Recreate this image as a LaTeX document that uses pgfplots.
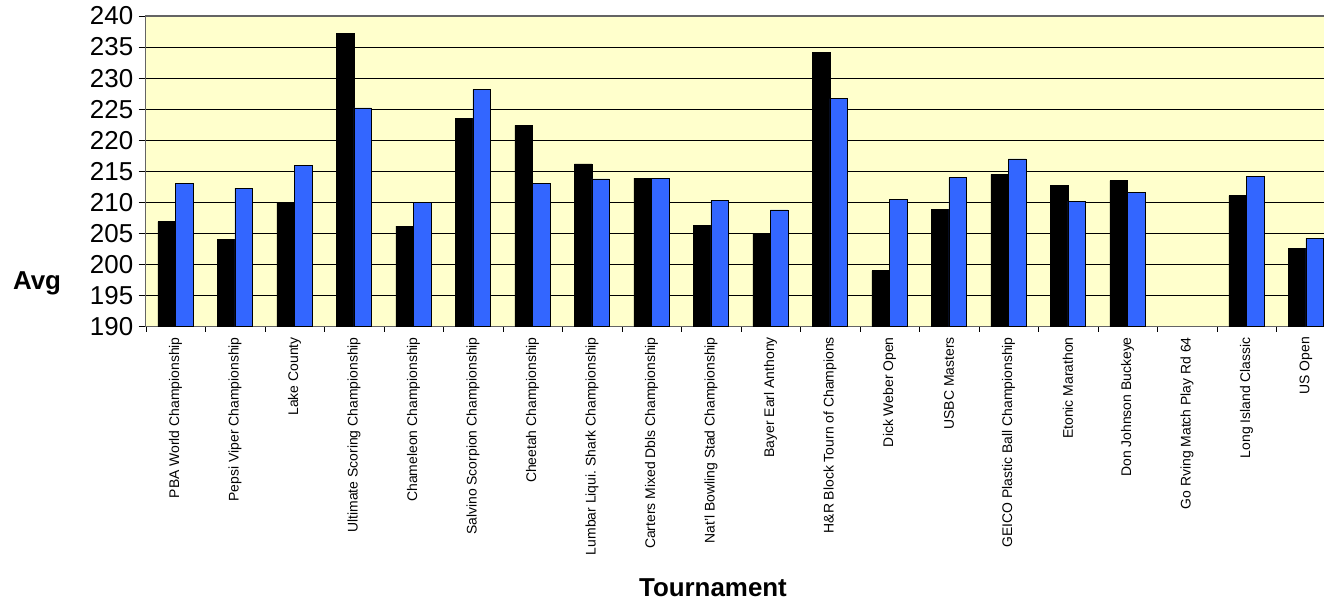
\documentclass[border=0pt]{standalone}
\usepackage{pgfplots}
\pgfplotsset{compat=1.18}
\usepackage{fontspec}
\setmainfont{Liberation Sans}
\frenchspacing
\definecolor{bgyellow}{RGB}{255,255,204}
\definecolor{barblue}{RGB}{51,102,255}
\definecolor{framegray}{RGB}{100,100,100}
\begin{document}
\begin{tikzpicture}
% the page is the reference's frame; the plot runs on past its right edge
\useasboundingbox (-145.7bp,-276.3bp) rectangle (1178.3bp,326.7bp);
\begin{axis}[
    scale only axis,
    width=1190bp, height=310.7bp,
    ybar=0pt, bar width=17.5bp,
    xmin=0.5, xmax=20.5,
    ymin=190, ymax=240,
    ytick={190,195,...,240},
    xtick={1,...,20},
    xticklabels={PBA World Championship, Pepsi Viper Championship, Lake County,
      Ultimate Scoring Championship, Chameleon Championship,
      Salvino Scorpion Championship, Cheetah Championship,
      Lumbar Liqui. Shark Championship, Carters Mixed Dbls Championship,
      Nat'l Bowling Stad Championship, Bayer Earl Anthony,
      H\&R Block Tourn of Champions, Dick Weber Open, USBC Masters,
      GEICO Plastic Ball Championship, Etonic Marathon, Don Johnson Buckeye,
      Go Rving Match Play Rd 64, Long Island Classic, US Open},
    minor xtick={0.5,1.5,...,19.5},
    major x tick style={draw=none},
    minor x tick style={draw=black},
    minor tick length=5bp,
    major tick length=7bp,
    tick align=outside,
    xtick pos=bottom, ytick pos=left,
    ymajorgrids, grid style={black, line width=0.8bp},
    axis background/.style={fill=bgyellow},
    axis line style={framegray, line width=1.2bp},
    ytick style={black, line width=0.8bp},
    /pgf/number format/assume math mode=true,
    yticklabel style={font=\fontsize{26}{28}\selectfont, xshift=-2bp},
    xticklabel style={rotate=90, anchor=east, font=\fontsize{14}{16}\selectfont},
    every axis y label/.style={at={(axis description cs:0,0.141)}, xshift=-108.7bp,
      anchor=center, font=\bfseries\fontsize{26}{28}\selectfont},
    every axis x label/.style={at={(axis description cs:0.4767,0)}, yshift=-261bp,
      anchor=center, font=\bfseries\fontsize{26}{28}\selectfont},
    ylabel={Avg},
    xlabel={Tournament},
]
\addplot[fill=black, draw=black, line width=0.6bp] coordinates {
(1,206.9)(2,204.0)(3,209.9)(4,237.2)(5,206.2)(6,223.5)(7,222.4)(8,216.2)
(9,213.9)(10,206.3)(11,204.9)(12,234.2)(13,199.0)(14,208.9)(15,214.5)
(16,212.8)(17,213.5)(19,211.1)(20,202.6)
};
\addplot[fill=barblue, draw=black, line width=0.6bp] coordinates {
(1,213.0)(2,212.3)(3,215.9)(4,225.2)(5,210.0)(6,228.2)(7,213.1)(8,213.8)
(9,213.9)(10,210.3)(11,208.8)(12,226.7)(13,210.5)(14,214.0)(15,217.0)
(16,210.2)(17,211.6)(19,214.2)(20,204.2)
};
\end{axis}
\end{tikzpicture}
\end{document}
